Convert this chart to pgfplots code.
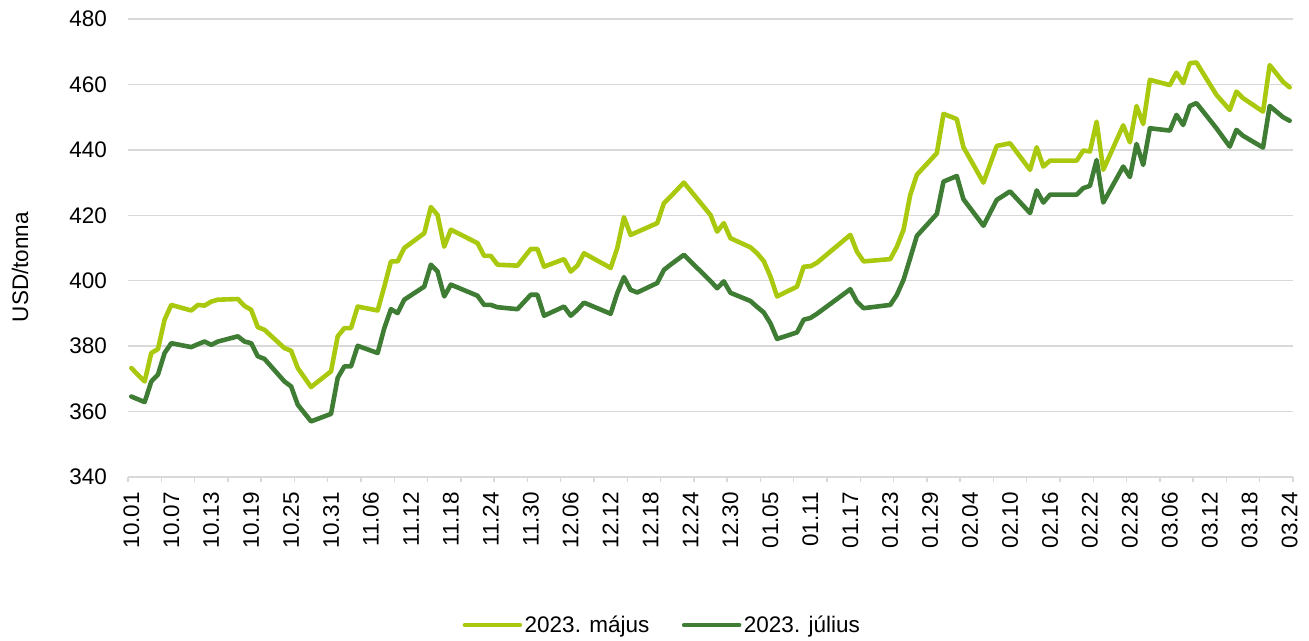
\documentclass[border=0pt]{standalone}
\usepackage{fontspec}
\setmainfont{Liberation Sans}
\usepackage{pgfplots}
\usepackage{pgfplotstable}
\pgfplotsset{compat=1.18}
\definecolor{may}{RGB}{169,201,14}
\definecolor{jul}{RGB}{63,125,53}
\definecolor{gridc}{RGB}{217,217,217}
\pgfplotstableread{
day may jul
0 373.3 364.6
2 369.2 362.9
3 377.9 369.2
4 379.1 371.3
5 388.1 377.9
6 392.6 380.9
9 390.9 379.7
10 392.6 380.6
11 392.4 381.4
12 393.6 380.4
13 394.2 381.4
16 394.4 383.0
17 392.3 381.4
18 391.1 380.9
19 385.8 376.9
20 385.0 376.1
23 379.4 369.2
24 378.6 367.7
25 373.3 362.1
27 367.5 357.0
30 372.3 359.3
31 383.0 370.3
32 385.5 373.8
33 385.5 373.8
34 392.1 380.1
37 390.9 377.9
38 398.2 385.5
39 405.9 391.3
40 405.9 390.1
41 410.0 394.2
44 414.5 398.2
45 422.5 404.9
46 420.1 402.8
47 410.4 395.2
48 415.6 398.8
52 411.5 395.4
53 407.6 392.6
54 407.6 392.6
55 404.9 391.9
58 404.6 391.3
60 409.7 395.7
61 409.7 395.7
62 404.3 389.3
65 406.6 392.1
66 402.8 389.3
67 404.6 391.1
68 408.4 393.3
72 403.9 389.9
73 410.0 396.2
74 419.4 401.1
75 414.0 397.2
76 414.9 396.4
79 417.6 399.3
80 423.7 403.3
81 425.7 404.9
83 430.0 407.9
87 420.1 399.9
88 415.0 397.7
89 417.6 399.8
90 413.0 396.3
93 410.2 393.8
94 408.4 392.0
95 406.0 390.3
96 401.3 387.0
97 395.2 382.2
100 398.2 384.2
101 404.3 388.1
102 404.4 388.6
103 405.5 389.9
108 414.0 397.4
109 408.9 393.6
110 405.9 391.6
114 406.6 392.6
115 410.4 395.7
116 415.6 400.3
117 426.2 406.9
118 432.4 413.7
121 439.0 420.4
122 451.0 430.3
124 449.4 432.0
125 440.8 424.9
128 430.0 416.8
130 441.2 424.7
132 442.0 427.3
133 439.3 425.1
135 433.9 420.7
136 440.8 427.6
137 434.9 423.9
138 436.7 426.3
142 436.7 426.3
143 439.8 428.3
144 439.5 429.0
145 448.6 436.9
146 433.9 423.9
149 447.5 434.9
150 442.3 431.7
151 453.4 441.8
152 447.9 435.4
153 461.4 446.6
156 459.8 445.9
157 463.6 450.7
158 460.4 447.6
159 466.5 453.4
160 466.7 454.3
163 456.8 446.6
165 452.2 441.0
166 457.8 446.1
167 455.8 444.3
170 451.7 440.7
171 465.9 453.4
173 460.8 450.0
174 459.1 448.9
}\data

\begin{document}
\begin{tikzpicture}
\path[use as bounding box] (0,0) rectangle (1309bp,641bp);
\begin{axis}[
  at={(128bp,164bp)}, anchor=south west,
  scale only axis, width=1165bp, height=458bp,
  xmin=-0.5, xmax=174.5, ymin=340, ymax=480,
  font=\fontsize{22.5bp}{27bp}\selectfont,
  axis x line*=bottom, axis y line*=left,
  x axis line style={draw=gridc, line width=1.3bp},
  y axis line style={draw=none},
  ytick={340,360,...,480},
  xtick={0,6,...,174},
  xticklabels={10.01,10.07,10.13,10.19,10.25,10.31,11.06,11.12,11.18,11.24,11.30,12.06,12.12,12.18,12.24,12.30,01.05,01.11,01.17,01.23,01.29,02.04,02.10,02.16,02.22,02.28,03.06,03.12,03.18,03.24},
  minor xtick={-0.5,4.5,...,174.5},
  major tick length=0pt, minor tick length=5bp, tick align=outside,
  minor tick style={draw=gridc, line width=1.3bp},
  ymajorgrids, grid style={draw=gridc, line width=1.3bp},
  /pgf/number format/assume math mode=true,
  yticklabel style={anchor=east, inner sep=0pt, xshift=-21bp},
  xticklabel style={yshift=-15bp, rotate=90, anchor=east, inner sep=0pt},
  ylabel={USD/tonna},
  ylabel style={at={(rel axis cs:-0.0927,0.4585)}, anchor=center, inner sep=0pt},
  legend columns=2,
  legend style={at={(0.4588,-0.323)}, anchor=center, draw=none, fill=none,
    /tikz/every even column/.append style={column sep=30bp},
    nodes={inner sep=2.5bp}},
  legend image code/.code={\draw[#1] (0bp,0bp) -- (55bp,0bp);},
  every axis plot/.append style={line width=4.6bp, line join=round, line cap=round},
]
\addplot[color=may, no markers] table[x=day, y=may] {\data};
\addlegendentry{2023. május}
\addplot[color=jul, no markers] table[x=day, y=jul] {\data};
\addlegendentry{2023. július}
\end{axis}
\end{tikzpicture}
\end{document}
